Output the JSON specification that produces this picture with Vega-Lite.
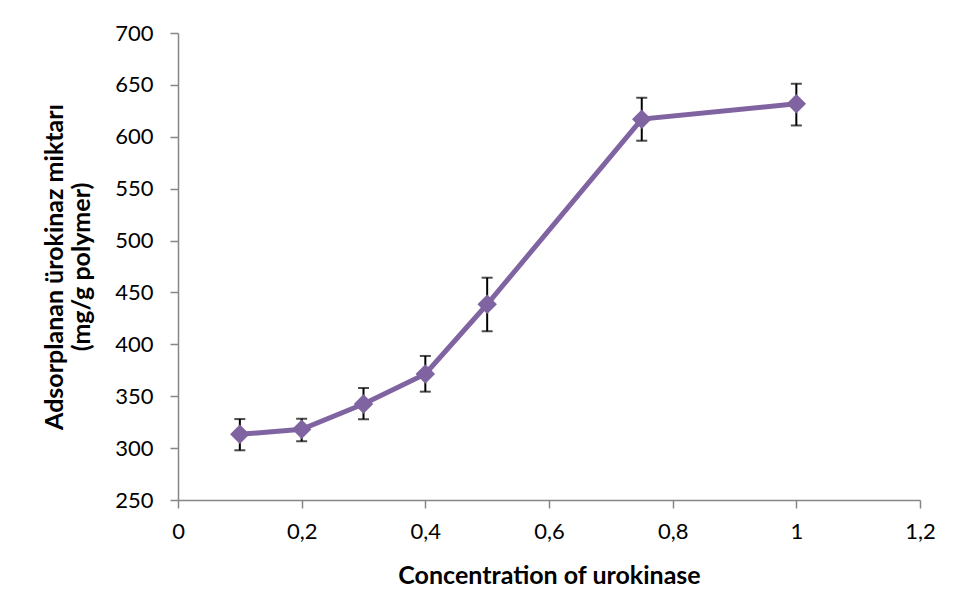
{
  "$schema": "https://vega.github.io/schema/vega-lite/v6.json",
  "autosize": "none",
  "width": 742,
  "height": 467,
  "padding": {"left": 178, "top": 33, "right": 38, "bottom": 103},
  "background": "white",
  "config": {
    "view": {"stroke": null},
    "font": "Lato",
    "axis": {
      "grid": false,
      "domainColor": "#868686",
      "domainWidth": 1.5,
      "tickColor": "#868686",
      "tickWidth": 1.5,
      "tickSize": 8,
      "labelFont": "Lato",
      "labelFontSize": 22,
      "labelColor": "black",
      "labelFlush": false,
      "labelOverlap": false,
      "titleFont": "Lato",
      "titleFontSize": 25,
      "titleFontWeight": "bold",
      "titleColor": "black"
    }
  },
  "data": {
    "values": [
      {"c": 0.1, "v": 313.3, "lo": 297.9, "hi": 328.0},
      {"c": 0.2, "v": 318.1, "lo": 306.6, "hi": 328.3},
      {"c": 0.3, "v": 342.5, "lo": 327.8, "hi": 357.9},
      {"c": 0.4, "v": 371.4, "lo": 354.4, "hi": 388.8},
      {"c": 0.5, "v": 438.6, "lo": 412.6, "hi": 464.2},
      {"c": 0.75, "v": 617.0, "lo": 596.2, "hi": 637.6},
      {"c": 1.0, "v": 631.8, "lo": 610.9, "hi": 651.1}
    ]
  },
  "encoding": {
    "x": {
      "field": "c",
      "type": "quantitative",
      "scale": {"domain": [0, 1.2], "nice": false, "zero": false},
      "axis": {
        "title": "Concentration of urokinase",
        "values": [0, 0.2, 0.4, 0.6, 0.8, 1, 1.2],
        "labelExpr": "replace(toString(datum.value), '.', ',')",
        "labelPadding": 13,
        "titlePadding": 21
      }
    }
  },
  "layer": [
    {
      "mark": {"type": "errorbar", "ticks": {"size": 11, "thickness": 2, "color": "black"}, "rule": {"strokeWidth": 2, "color": "black"}},
      "encoding": {
        "y": {
          "field": "lo",
          "type": "quantitative",
          "scale": {"domain": [250, 700], "nice": false, "zero": false},
          "axis": {
            "title": ["Adsorplanan ürokinaz miktarı", "(mg/g polymer)"],
            "values": [250, 300, 350, 400, 450, 500, 550, 600, 650, 700],
            "labelPadding": 17,
            "titlePadding": 20,
            "titleLineHeight": 27
          }
        },
        "y2": {"field": "hi"}
      }
    },
    {
      "mark": {"type": "line", "color": "#8064A2", "strokeWidth": 5},
      "encoding": {
        "y": {"field": "v", "type": "quantitative"}
      }
    },
    {
      "mark": {"type": "point", "shape": "diamond", "filled": true, "color": "#8064A2", "opacity": 1, "size": 380},
      "encoding": {
        "y": {"field": "v", "type": "quantitative"}
      }
    }
  ]
}
